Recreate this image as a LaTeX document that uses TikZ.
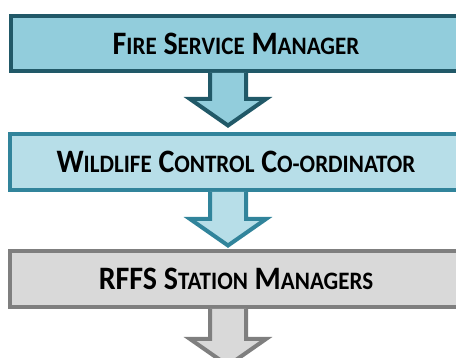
\documentclass[tikz,border=0pt]{standalone}
\usepackage{fontspec}
\setmainfont{Carlito}
\newcommand\smc[1]{{\fontsize{23}{23}\selectfont #1}}
\newcommand\stretchtxt[1]{\scalebox{1}[1.09]{#1}}
\definecolor{tealdark}{HTML}{215968}
\definecolor{tealfillA}{HTML}{92CDDC}
\definecolor{tealmid}{HTML}{31849B}
\definecolor{tealfillB}{HTML}{B7DEE8}
\definecolor{graydark}{HTML}{7F7F7F}
\definecolor{grayfill}{HTML}{D9D9D9}
\tikzset{
  box/.style={draw, line width=4pt, minimum width=452pt, minimum height=56pt,
    inner sep=0pt, font=\fontsize{30}{30}\selectfont\bfseries, text=black},
  blockarrow/.style={line width=4pt, line join=miter, miter limit=10},
}
\begin{document}
\begin{tikzpicture}[x=1pt,y=-1pt]
\useasboundingbox (0,0) rectangle (456,358);
\clip (0,0) rectangle (456,358);
% boxes
\node[box, draw=tealdark, fill=tealfillA, minimum width=450pt, minimum height=55pt] (fsm) at (236,43.5)
  {\stretchtxt{F\smc{IRE} S\smc{ERVICE} M\smc{ANAGER}}};
\node[box, draw=tealmid, fill=tealfillB] (wcc) at (236,162)
  {\stretchtxt{W\smc{ILDLIFE} C\smc{ONTROL} C\smc{O-ORDINATOR}}};
\node[box, draw=graydark, fill=grayfill] (rsm) at (236,279)
  {\stretchtxt{RFFS S\smc{TATION} M\smc{ANAGERS}}};
% block arrows hanging from each box
\fill[tealfillA] (fsm.south -| 210,0) -- (210,99) -- (190,99) -- (228,125.5) -- (266,99) -- (246,99) -- (fsm.south -| 246,0) -- cycle;
\draw[blockarrow, draw=tealdark] (fsm.south -| 210,0) -- (210,99) -- (190,99) -- (228,125.5) -- (266,99) -- (246,99) -- (fsm.south -| 246,0);
\fill[tealfillB] (wcc.south -| 210,0) -- (210,219) -- (190,219) -- (228,245.5) -- (266,219) -- (246,219) -- (wcc.south -| 246,0) -- cycle;
\draw[blockarrow, draw=tealmid] (wcc.south -| 210,0) -- (210,219) -- (190,219) -- (228,245.5) -- (266,219) -- (246,219) -- (wcc.south -| 246,0);
\fill[grayfill] (rsm.south -| 210,0) -- (210,339) -- (190,339) -- (228,365.5) -- (266,339) -- (246,339) -- (rsm.south -| 246,0) -- cycle;
\draw[blockarrow, draw=graydark] (rsm.south -| 210,0) -- (210,339) -- (190,339) -- (228,365.5) -- (266,339) -- (246,339) -- (rsm.south -| 246,0);
\end{tikzpicture}
\end{document}
